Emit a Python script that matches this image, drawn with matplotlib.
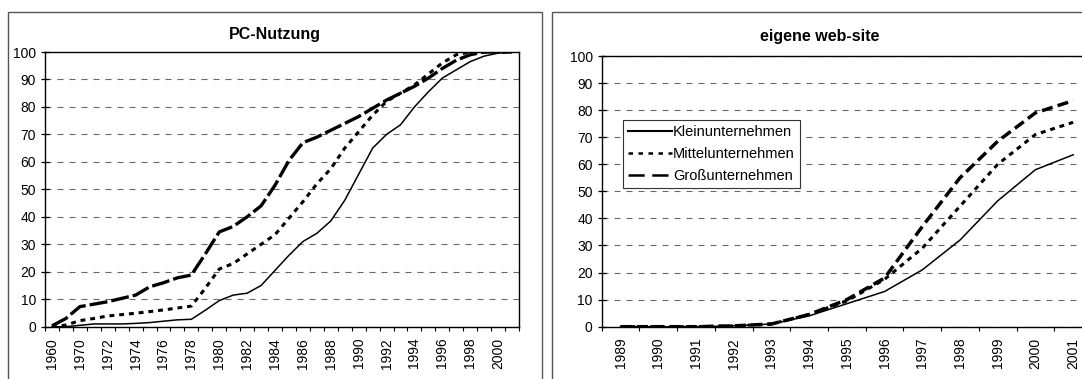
import matplotlib
matplotlib.use("Agg")
import matplotlib.pyplot as plt
from matplotlib.patches import Rectangle

plt.rcParams['font.family'] = ['Liberation Sans', 'DejaVu Sans']

# ---- PC-Nutzung (share of firms using PCs, %) ----
pc_years = ["1960", "1965"] + [str(y) for y in range(1970, 2002)]
pc_labeled = ["1960", "1970", "1972", "1974", "1976", "1978", "1980", "1982",
              "1984", "1986", "1988", "1990", "1992", "1994", "1996", "1998", "2000"]
pc_klein = [0, 0, 0.5, 1, 1, 1, 1.2, 1.5, 2, 2.5, 2.7, 6, 9.5, 11.5, 12.2, 15,
            20.5, 26, 31, 34, 38.5, 46, 55.5, 65, 70, 73.5, 80, 85.5, 90.5,
            93.5, 96.5, 98.5, 99.6, 100]
pc_mittel = [0, 0.6, 2.2, 3, 3.9, 4.4, 4.9, 5.5, 6.1, 6.8, 7.5, 14, 21, 23,
             26.5, 30, 33.5, 39.5, 45.5, 52, 57.5, 65, 71, 77, 82, 85, 88, 92,
             96, 99, 100, 100, 100, 100]
pc_gross = [0.3, 3, 7.3, 8.2, 9.1, 10.3, 11.5, 14.5, 16, 17.8, 18.8, 26.5,
            34.5, 36.5, 40, 44, 51.5, 60.5, 67, 69, 71.5, 74, 76.5, 79.5, 82.5,
            85, 87.5, 90.5, 94, 97, 99, 100, 100, 100]

# ---- eigene web-site (share of firms with own website, %) ----
web_years = [str(y) for y in range(1989, 2002)]
web_klein = [0, 0, 0, 0.3, 1, 4, 8.5, 13, 21, 32, 46.5, 58, 63.5]
web_mittel = [0, 0, 0, 0.3, 1, 4.5, 9.5, 17.5, 29, 44.5, 60, 71, 75.5]
web_gross = [0, 0, 0, 0.3, 1, 4.5, 10, 18, 37, 55, 68.5, 79, 83.5]

series_names = ["Kleinunternehmen", "Mittelunternehmen", "Großunternehmen"]
y_ticks = list(range(0, 101, 10))

W, H = 1082, 379
fig = plt.figure(figsize=(W / 100, H / 100), dpi=100)
fig.patch.set_facecolor("white")


def px_axes(left, top, right, bottom):
    return fig.add_axes([left / W, 1 - bottom / H, (right - left) / W, (bottom - top) / H])


def style_axes(ax, cats, labeled):
    n = len(cats)
    ax.set_xlim(-0.5, n - 0.5)
    ax.set_ylim(0, 100)
    ax.set_yticks(y_ticks)
    ax.set_yticklabels([str(t) for t in y_ticks], fontsize=10)
    ax.tick_params(axis="y", direction="inout", length=6, width=0.9, pad=3.5)
    pos = [cats.index(c) for c in labeled]
    ax.set_xticks(pos)
    ax.set_xticklabels(labeled, rotation=90, fontsize=10)
    ax.tick_params(axis="x", which="major", length=0, pad=8)
    ax.set_xticks([i - 0.5 for i in range(n + 1)], minor=True)
    ax.tick_params(axis="x", which="minor", direction="out", length=3, width=0.8)
    ax.yaxis.grid(True, linestyle=(0, (5.4, 5.4)), color="#6e6572", lw=0.8)
    ax.set_axisbelow(True)
    for sp in ax.spines.values():
        sp.set_color("black")
        sp.set_linewidth(1.0)


# left panel
ax1 = px_axes(45, 52, 519, 326.7)
x1 = range(len(pc_years))
ax1.plot(x1, pc_klein, color="black", lw=1.1, solid_joinstyle="round")
ax1.plot(x1, pc_mittel, color="black", lw=2.2, linestyle=(0, (1.6, 1.6)))
ax1.plot(x1, pc_gross, color="black", lw=2.4, linestyle=(0, (5.4, 1.2)))
style_axes(ax1, pc_years, pc_labeled)

# right panel
ax2 = px_axes(601.7, 56, 1092, 326.7)
x2 = range(len(web_years))
l1, = ax2.plot(x2, web_klein, color="black", lw=1.1, label=series_names[0])
l2, = ax2.plot(x2, web_mittel, color="black", lw=2.2, linestyle=(0, (1.6, 1.6)),
               label=series_names[1])
l3, = ax2.plot(x2, web_gross, color="black", lw=2.5, linestyle=(0, (3.2, 1.5)),
               label=series_names[2])
style_axes(ax2, web_years, web_years)

leg = ax2.legend(handles=[l1, l2, l3], loc="upper left",
                 bbox_to_anchor=(0.043, 0.764), borderaxespad=0,
                 fontsize=10.5, handlelength=3.0, handletextpad=0.1,
                 labelspacing=0.55, borderpad=0.35, fancybox=False,
                 framealpha=1, edgecolor="#333333")
leg.get_frame().set_linewidth(0.8)
hl = leg.get_lines()
hl[0].set_linewidth(1.5)
hl[1].set_linewidth(1.8)
hl[1].set_linestyle((0, (1.8, 2.2)))
hl[2].set_linewidth(1.8)
hl[2].set_linestyle((0, (6.5, 3.0)))

# titles
fig.text(275 / W, 1 - 35 / H, "PC-Nutzung", ha="center", va="center",
         fontsize=11.5, fontweight="bold")
fig.text(820 / W, 1 - 36 / H, "eigene web-site", ha="center", va="center",
         fontsize=11.5, fontweight="bold")

# chart area frames
fig.add_artist(Rectangle((8 / W, -0.05), (541.7 - 8) / W, 1.05 - 12 / H,
                         transform=fig.transFigure, fill=False,
                         edgecolor="#555555", lw=1.0))
fig.add_artist(Rectangle((551.5 / W, -0.05), 0.6, 1.05 - 12 / H,
                         transform=fig.transFigure, fill=False,
                         edgecolor="#555555", lw=1.0))

fig.savefig("out.png", dpi=100)
